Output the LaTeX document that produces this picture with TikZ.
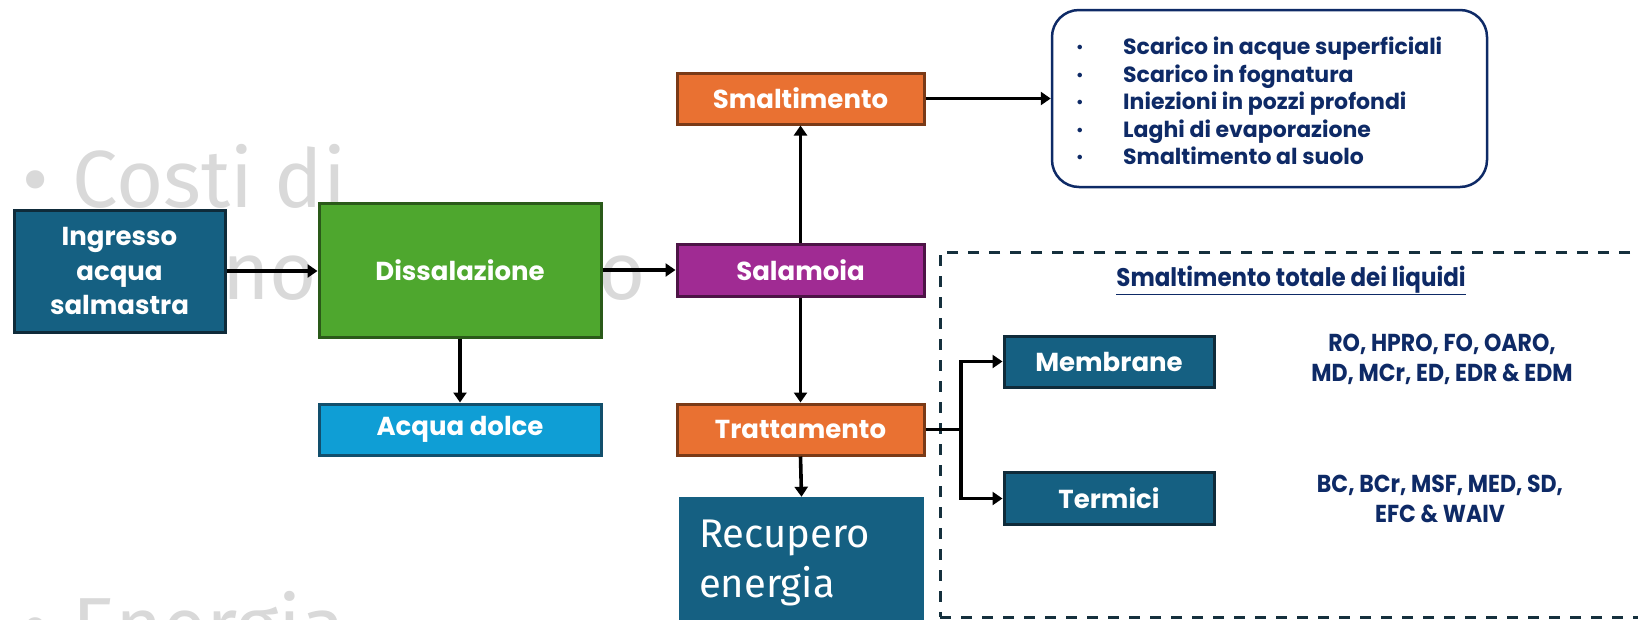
\documentclass[tikz,border=0pt]{standalone}
\usepackage{fontspec}
\setmainfont{Poppins}
\newfontfamily\condf[FakeStretch=0.9]{Poppins}
\newfontfamily\aptf{Fira Sans}
\usetikzlibrary{arrows.meta}
\definecolor{cblue}{HTML}{156082}
\definecolor{cblueb}{HTML}{0F2B3A}
\definecolor{corange}{HTML}{E97132}
\definecolor{corangeb}{HTML}{7A3A17}
\definecolor{cgreen}{HTML}{4EA72E}
\definecolor{cgreenb}{HTML}{2A5A19}
\definecolor{clight}{HTML}{0F9ED5}
\definecolor{clightb}{HTML}{124F6C}
\definecolor{cpurple}{HTML}{A02B93}
\definecolor{cpurpleb}{HTML}{4D1446}
\definecolor{navy}{HTML}{0E2A66}
\definecolor{dashc}{HTML}{15303D}
\definecolor{wm}{HTML}{D9D9D9}
\begin{document}
\begin{tikzpicture}[x=1pt,y=-1pt,
  box/.style={draw, line width=3pt, inner sep=0pt, text=white, align=center,
    font=\fontsize{26}{34.5}\selectfont\bfseries},
  arr/.style={-{Triangle[length=10pt,width=13pt]}, line width=3.6pt, black},
  wmtext/.style={anchor=base west, text=wm, inner sep=0pt, font=\aptf\fontsize{81}{81}\selectfont},
  condtext/.style={text=navy, inner sep=0pt, align=center, font=\condf\bfseries\fontsize{24.5}{30}\selectfont}
]
\useasboundingbox (0,0) rectangle (1638,619);
% background watermark text
\node[wmtext] (wma) at (22,207) {\textbullet\hspace{24pt}Costi di};
\node[wmtext] (wmb) at (222,299) {no};
\node[wmtext] (wmc) at (598,299) {o};
\node[wmtext] (wmd) at (22,654) {\textbullet\hspace{24pt}Energia};

% dashed frame
\node[draw=dashc, dash pattern=on 11pt off 10pt, line width=3pt, inner sep=0pt,
  minimum width=740, minimum height=365] (tld) at (1310,434.5) {};

% boxes
\node[box, fill=cblue, draw=cblueb, minimum width=211, minimum height=122] (ing) at (119.5,271) {Ingresso\\acqua\\salmastra};
\node[box, fill=cgreen, draw=cgreenb, minimum width=282, minimum height=134] (dis) at (460,270) {Dissalazione};
\node[box, fill=clight, draw=clightb, minimum width=282, minimum height=51] (acq) at (460,429.5) {Acqua dolce};
\node[box, fill=cpurple, draw=cpurpleb, minimum width=247, minimum height=52] (sal) at (800.5,270) {Salamoia};
\node[box, fill=corange, draw=corangeb, minimum width=247, minimum height=51] (sma) at (800.5,98.5) {Smaltimento};
\node[box, fill=corange, draw=corangeb, minimum width=247, minimum height=51] (tra) at (800.5,429.5) {Trattamento};
\node[fill=cblue, inner sep=0pt, minimum width=245, minimum height=132, text width=205, align=left,
  text=white, font=\aptf\fontsize{40}{50}\selectfont] (rec) at (801.5,563) {Recupero\\energia};
\node[box, fill=cblue, draw=cblueb, minimum width=210, minimum height=51] (mem) at (1109,361.5) {Membrane};
\node[box, fill=cblue, draw=cblueb, minimum width=210, minimum height=52] (ter) at (1109,498.5) {Termici};

% rounded list box
\node[draw=navy, line width=2.5pt, rounded corners=27pt, inner sep=0pt,
  minimum width=435, minimum height=177] (lst) at (1269.5,98.5) {};
\node[anchor=west, inner sep=0pt, align=left, text=navy,
  font=\fontsize{22}{27.5}\selectfont\bfseries] (lsttxt) at (1076,101) {%
  \makebox[47pt][l]{\raisebox{2pt}{\fontsize{15}{15}\selectfont\textbullet}}Scarico in acque superficiali\\
  \makebox[47pt][l]{\raisebox{2pt}{\fontsize{15}{15}\selectfont\textbullet}}Scarico in fognatura\\
  \makebox[47pt][l]{\raisebox{2pt}{\fontsize{15}{15}\selectfont\textbullet}}Iniezioni in pozzi profondi\\
  \makebox[47pt][l]{\raisebox{2pt}{\fontsize{15}{15}\selectfont\textbullet}}Laghi di evaporazione\\
  \makebox[47pt][l]{\raisebox{2pt}{\fontsize{15}{15}\selectfont\textbullet}}Smaltimento al suolo};

% texts in dashed frame
\node[anchor=base, text=navy, inner sep=0pt, font=\condf\bfseries\fontsize{25.5}{30}\selectfont] (ttl) at (1291,286) {\underline{Smaltimento totale dei liquidi}};
\node[condtext] (memtxt) at (1442,359) {RO, HPRO, FO, OARO,\\MD, MCr, ED, EDR \& EDM};
\node[condtext] (tertxt) at (1440,499) {BC, BCr, MSF, MED, SD,\\EFC \& WAIV};

% connectors
\draw[arr] (ing.east) -- (ing.east -| dis.west);
\draw[arr] (dis.east) -- (dis.east -| sal.west);
\draw[arr] (dis.south -| acq.north) -- (acq.north);
\draw[arr] (sal.north) -- (sma.south);
\draw[arr] (sal.south) -- (tra.north);
\draw[arr] (tra.south) -- (rec.north);
\draw[arr] (sma.east) -- (sma.east -| lst.west);
\coordinate (br) at (961,429.5);
\draw[arr] (tra.east) -- (br) |- (mem.west);
\draw[arr] (br) |- (ter.west);
\end{tikzpicture}
\end{document}
